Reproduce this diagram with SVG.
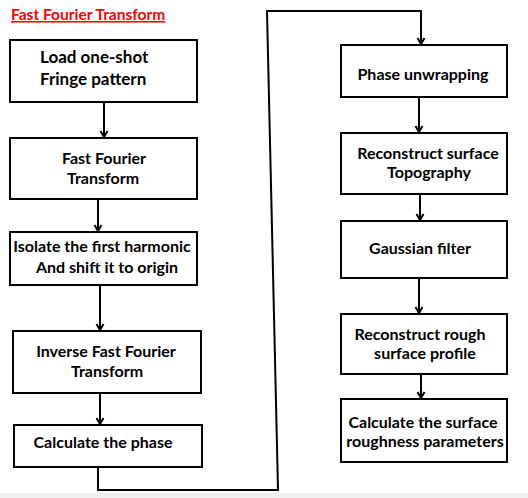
<svg xmlns="http://www.w3.org/2000/svg" width="528" height="498" viewBox="0 0 528 498">
<style>
.box{fill:#fff;stroke:#000;stroke-width:2}
.t{font-family:Lato,"Liberation Sans",sans-serif;font-weight:700;font-size:16px;fill:#000}
.big{font-size:17px}
.c{text-anchor:middle}
.ln{fill:none;stroke:#000;stroke-width:2}
.title{font-family:Lato,"Liberation Sans",sans-serif;font-weight:700;font-size:15.5px;fill:#ff0000;text-decoration:underline}
</style>
<defs>
<marker id="ah" markerUnits="userSpaceOnUse" markerWidth="12" markerHeight="12" viewBox="0 0 12 12" refX="10" refY="6" orient="auto" overflow="visible">
<path d="M4,2.5 L10,6 L4,9.5" fill="none" stroke="#000" stroke-width="2"/>
</marker>
</defs>
<rect x="0" y="0" width="528" height="498" fill="#fff"/>
<rect x="0" y="493" width="528" height="5" fill="#f0f0f0"/>
<text class="title" x="11" y="20">Fast Fourier Transform</text>
<g id="connectors">
<line class="ln" x1="104" y1="102" x2="104" y2="137" marker-end="url(#ah)"/>
<line class="ln" x1="98" y1="199" x2="98" y2="231" marker-end="url(#ah)"/>
<line class="ln" x1="100" y1="285" x2="100" y2="330" marker-end="url(#ah)"/>
<line class="ln" x1="100" y1="393" x2="100" y2="424" marker-end="url(#ah)"/>
<polyline class="ln" points="98,467 98,490 278,490 267,11 421,11 421,44" marker-end="url(#ah)"/>
<line class="ln" x1="419" y1="97" x2="419" y2="132" marker-end="url(#ah)"/>
<line class="ln" x1="420" y1="194" x2="420" y2="220" marker-end="url(#ah)"/>
<line class="ln" x1="419" y1="278" x2="419" y2="313" marker-end="url(#ah)"/>
<line class="ln" x1="421" y1="374" x2="421" y2="398" marker-end="url(#ah)"/>
</g>
<g id="n1"><rect class="box" x="10" y="40" width="187" height="62"/>
<text class="t big" x="40" y="63">Load one-shot</text><text class="t big" x="40" y="85">Fringe pattern</text></g>
<g id="n2"><rect class="box" x="10" y="138" width="187" height="61"/>
<text class="t c" x="104" y="164">Fast Fourier</text><text class="t c" x="103" y="184">Transform</text></g>
<g id="n3"><rect class="box" x="10" y="232" width="187" height="53"/>
<text class="t c" x="102" y="252">Isolate the first harmonic</text><text class="t c" x="107" y="273">And shift it to origin</text></g>
<g id="n4"><rect class="box" x="13" y="331" width="188" height="62"/>
<text class="t c" x="106" y="357">Inverse Fast Fourier</text><text class="t c" x="107" y="377">Transform</text></g>
<g id="n5"><rect class="box" x="14" y="425" width="188" height="42"/>
<text class="t c" x="103" y="448">Calculate the phase</text></g>
<g id="n6"><rect class="box" x="341" y="45" width="166" height="52"/>
<text class="t c" x="423" y="80">Phase unwrapping</text></g>
<g id="n7"><rect class="box" x="341" y="133" width="166" height="61"/>
<text class="t c" x="428" y="159">Reconstruct surface</text><text class="t c" x="429" y="178">Topography</text></g>
<g id="n8"><rect class="box" x="341" y="221" width="166" height="57"/>
<text class="t c" x="420" y="254">Gaussian filter</text></g>
<g id="n9"><rect class="box" x="341" y="314" width="166" height="60"/>
<text class="t c" x="420" y="340">Reconstruct rough</text><text class="t c" x="425" y="359">surface profile</text></g>
<g id="n10"><rect class="box" x="341" y="399" width="166" height="63"/>
<text class="t c" x="423" y="428">Calculate the surface</text><text class="t c" x="425" y="447">roughness parameters</text></g>
</svg>
